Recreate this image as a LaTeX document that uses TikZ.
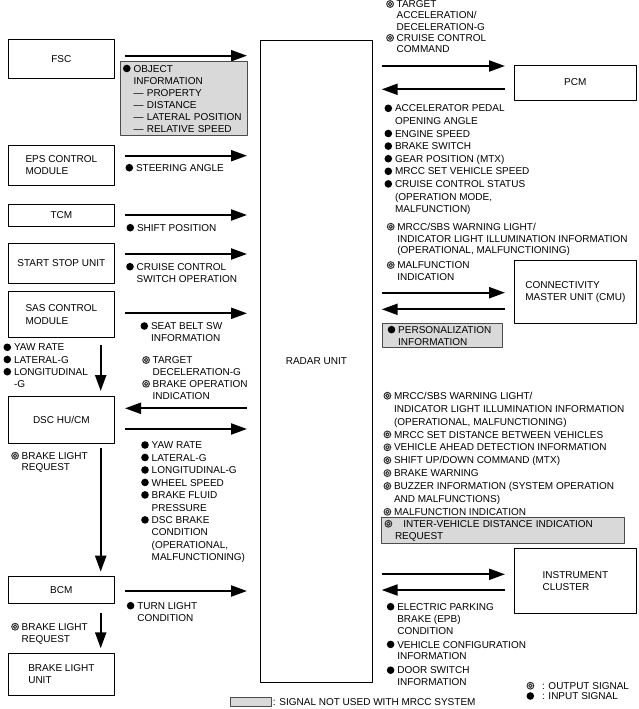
\documentclass[tikz,border=0pt]{standalone}
\usepackage{fontspec}
\setmainfont{Liberation Sans}
\usetikzlibrary{arrows.meta,positioning}

% signal marks: input (filled) and output (ring)
\newcommand{\insig}{\rule{0pt}{8pt}\makebox[10.5pt][l]{\tikz[baseline=-3.6pt]\fill (3.8pt,0pt) circle (3.8pt);}}
\newcommand{\outsig}{\rule{0pt}{8pt}\makebox[10.5pt][l]{\tikz[baseline=-3.6pt]\draw[black!80,line width=1pt] (3.6pt,0pt) circle (3.4pt) (3.6pt,0pt) circle (1.7pt);}}
\newcommand{\ind}{\hspace*{10.5pt}}

\tikzset{
  unit/.style={draw, line width=0.9pt, outer sep=0pt, inner sep=2pt, align=left, minimum width=105.3pt},
  sigtext/.style={anchor=north west, inner sep=0pt, outer sep=0pt, align=left},
  notused/.style={draw=black!70, fill=gray!30, line width=0.7pt, outer sep=0pt, anchor=north west},
  lead/.style={font=\fontsize{10}{#1}\selectfont},
  sig/.style={line width=2.2pt},
  lgap/.style={shorten <=11pt, shorten >=13.5pt},
  rgap/.style={shorten <=9.4pt, shorten >=9pt},
}

\begin{document}
\begin{tikzpicture}[x=1pt, y=-1pt, line join=round, font=\fontsize{10}{12.2}\selectfont, >={Triangle[length=16pt,width=11pt]}]
    \useasboundingbox (0,0) rectangle (639,709);
    % units on the left
    \node[unit, minimum height=39.4pt] (fsc) at (61.35,59) {FSC};
    \node[unit, minimum height=40.7pt] (eps) at (61.35,165.35) {EPS CONTROL\\MODULE};
    \node[unit, minimum height=22.7pt] (tcm) at (61.35,215.35) {TCM};
    \node[unit, minimum height=40pt] (ssu) at (61.35,263.3) {START STOP UNIT};
    \node[unit, minimum height=45.6pt] (sas) at (61.35,314.5) {SAS CONTROL\\MODULE};
    \node[unit, minimum height=46.6pt] (dsc) at (61.35,420) {DSC HU/CM};
    \node[unit, minimum height=27.3pt] (bcm) at (61.35,589.65) {BCM};
    \node[unit, minimum height=41.7pt] (blu) at (61.35,674.15) {BRAKE LIGHT\\UNIT};
    % radar unit
    \node[unit, minimum width=111.8pt, minimum height=641.6pt] (radar) at (316.4,361.5) {RADAR UNIT};
    % units on the right
    \node[unit, minimum width=122.7pt, minimum height=35pt] (pcm) at (575.35,82.5) {PCM};
    \node[unit, minimum width=122.7pt, minimum height=63.3pt] (cmu) at (575.35,291.65) {CONNECTIVITY\\MASTER UNIT (CMU)};
    \node[unit, minimum width=122.7pt, minimum height=65pt] (ic) at (575.35,580.8) {INSTRUMENT\\CLUSTER};

    % arrows, left side
    \draw[sig,->,lgap] (fsc.east |- 0,55.7) -- (radar.west |- 0,55.7);
    \draw[sig,->,lgap] (eps.east |- 0,155.7) -- (radar.west |- 0,155.7);
    \draw[sig,->,lgap] (tcm.east |- 0,215) -- (radar.west |- 0,215);
    \draw[sig,->,lgap] (ssu.east |- 0,254) -- (radar.west |- 0,254);
    \draw[sig,->,lgap] (sas.east |- 0,313.3) -- (radar.west |- 0,313.3);
    \draw[sig,<-,lgap] (dsc.east |- 0,408.3) -- (radar.west |- 0,408.3);
    \draw[sig,->,lgap] (dsc.east |- 0,429) -- (radar.west |- 0,429);
    \draw[sig,->,lgap] (bcm.east |- 0,591) -- (radar.west |- 0,591);
    \draw[sig,->,shorten <=7.7pt,shorten >=5.7pt] (sas.south -| 100.7,0) -- (dsc.north -| 100.7,0);
    \draw[sig,->,shorten <=5pt,shorten >=4.3pt] (dsc.south -| 100.7,0) -- (bcm.north -| 100.7,0);
    \draw[sig,->,shorten <=10pt,shorten >=5pt] (bcm.south -| 100.7,0) -- (blu.north -| 100.7,0);
    % arrows, right side
    \draw[sig,->,rgap] (radar.east |- 0,66) -- (pcm.west |- 0,66);
    \draw[sig,<-,rgap] (radar.east |- 0,89.3) -- (pcm.west |- 0,89.3);
    \draw[sig,->,rgap] (radar.east |- 0,292.7) -- (cmu.west |- 0,292.7);
    \draw[sig,<-,rgap] (radar.east |- 0,309.3) -- (cmu.west |- 0,309.3);
    \draw[sig,->,rgap] (radar.east |- 0,574.3) -- (ic.west |- 0,574.3);
    \draw[sig,<-,rgap] (radar.east |- 0,590) -- (ic.west |- 0,590);

    % signals, left half
    \node[notused, lead=12.1, minimum width=127pt, minimum height=73.3pt, text width=121pt, inner xsep=3pt, inner ysep=0pt, align=left] (objinfo) at (120,61.7)
      {\insig OBJECT\\\ind INFORMATION\\\ind --- PROPERTY\\\ind --- DISTANCE\\\ind --- LATERAL POSITION\\\ind --- RELATIVE SPEED};
    \node[sigtext] (steer) at (125.5,163.3) {\insig STEERING ANGLE};
    \node[sigtext] (shiftpos) at (126.5,223.3) {\insig SHIFT POSITION};
    \node[sigtext, lead=12.3] (ccsw) at (126.2,262.3) {\insig CRUISE CONTROL\\\ind SWITCH OPERATION};
    \node[sigtext, lead=11.7] (belt) at (140.5,321.6) {\insig SEAT BELT SW\\\ind INFORMATION};
    \node[sigtext, lead=11.9] (dscreq) at (142.2,355.6)
      {\outsig TARGET\\\ind DECELERATION-G\\\outsig BRAKE OPERATION\\\ind INDICATION};
    \node[sigtext, lead=12.48] (dscdata) at (141.2,440.6)
      {\insig YAW RATE\\\insig LATERAL-G\\\insig LONGITUDINAL-G\\\insig WHEEL SPEED\\\insig BRAKE FLUID\\\ind PRESSURE\\\insig DSC BRAKE\\\ind CONDITION\\\ind (OPERATIONAL,\\\ind MALFUNCTIONING)};
    \node[sigtext, lead=12] (turn) at (126.8,601.3) {\insig TURN LIGHT\\\ind CONDITION};
    \node[sigtext, lead=12.2] (sasdata) at (3.5,342.9)
      {\insig YAW RATE\\\insig LATERAL-G\\\insig LONGITUDINAL\\\ind -G};
    \node[sigtext, lead=11.6] (brkreqa) at (11.2,451.3) {\outsig BRAKE LIGHT\\\ind REQUEST};
    \node[sigtext, lead=12.3] (brkreqb) at (11.2,622.3) {\outsig BRAKE LIGHT\\\ind REQUEST};

    % signals, right half
    \node[sigtext, lead=11.3] (pcmcmd) at (386.2,-0.4)
      {\outsig TARGET\\\ind ACCELERATION/\\\ind DECELERATION-G\\\outsig CRUISE CONTROL\\\ind COMMAND};
    \node[sigtext, lead=12.6] (pcmdata) at (384.5,103.9)
      {\insig ACCELERATOR PEDAL\\\ind OPENING ANGLE\\\insig ENGINE SPEED\\\insig BRAKE SWITCH\\\insig GEAR POSITION (MTX)\\\insig MRCC SET VEHICLE SPEED\\\insig CRUISE CONTROL STATUS\\\ind (OPERATION MODE,\\\ind MALFUNCTION)};
    \node[sigtext, lead=11.7] (cmucmd) at (386.8,222.3)
      {\outsig MRCC/SBS WARNING LIGHT/\\\ind INDICATOR LIGHT ILLUMINATION INFORMATION\\\ind (OPERATIONAL, MALFUNCTIONING)\\[3.3pt]\outsig MALFUNCTION\\\ind INDICATION};
    \node[notused, lead=12, minimum width=120pt, minimum height=24pt, text width=110pt, inner xsep=5pt, inner ysep=0pt, align=left] (person) at (382.7,323.3)
      {\insig PERSONALIZATION\\\ind INFORMATION};
    \node[sigtext, lead=12.9] (iccmd) at (383.5,391.3)
      {\outsig MRCC/SBS WARNING LIGHT/\\\ind INDICATOR LIGHT ILLUMINATION INFORMATION\\\ind (OPERATIONAL, MALFUNCTIONING)\\\outsig MRCC SET DISTANCE BETWEEN VEHICLES\\\outsig VEHICLE AHEAD DETECTION INFORMATION\\\outsig SHIFT UP/DOWN COMMAND (MTX)\\\outsig BRAKE WARNING\\\outsig BUZZER INFORMATION (SYSTEM OPERATION\\\ind AND MALFUNCTIONS)\\\outsig MALFUNCTION INDICATION};
    \node[notused, lead=12.4, minimum width=242.6pt, minimum height=25.6pt, text width=237pt, inner xsep=2.8pt, inner ysep=0pt, align=left] (distreq) at (381.7,517.7)
      {\outsig\hspace*{8.3pt}INTER-VEHICLE DISTANCE INDICATION\\\ind REQUEST};
    \node[sigtext, lead=11.9] (icdata) at (386.8,602.3)
      {\insig ELECTRIC PARKING\\\ind BRAKE (EPB)\\\ind CONDITION\\[2pt]\insig VEHICLE CONFIGURATION\\\ind INFORMATION\\[2pt]\insig DOOR SWITCH\\\ind INFORMATION};

    % legends
    \node[sigtext, lead=10.3] (marks) at (526.5,681.3)
      {\outsig\hspace*{5pt}: OUTPUT SIGNAL\\\insig\hspace*{5pt}: INPUT SIGNAL};
    \node[notused, minimum width=40.3pt, minimum height=9.4pt, inner sep=0pt] (key) at (230.7,697.3) {};
    \node[inner sep=0pt, right=1.7pt of key] (keytext) {: SIGNAL NOT USED WITH MRCC SYSTEM};
\end{tikzpicture}
\end{document}
